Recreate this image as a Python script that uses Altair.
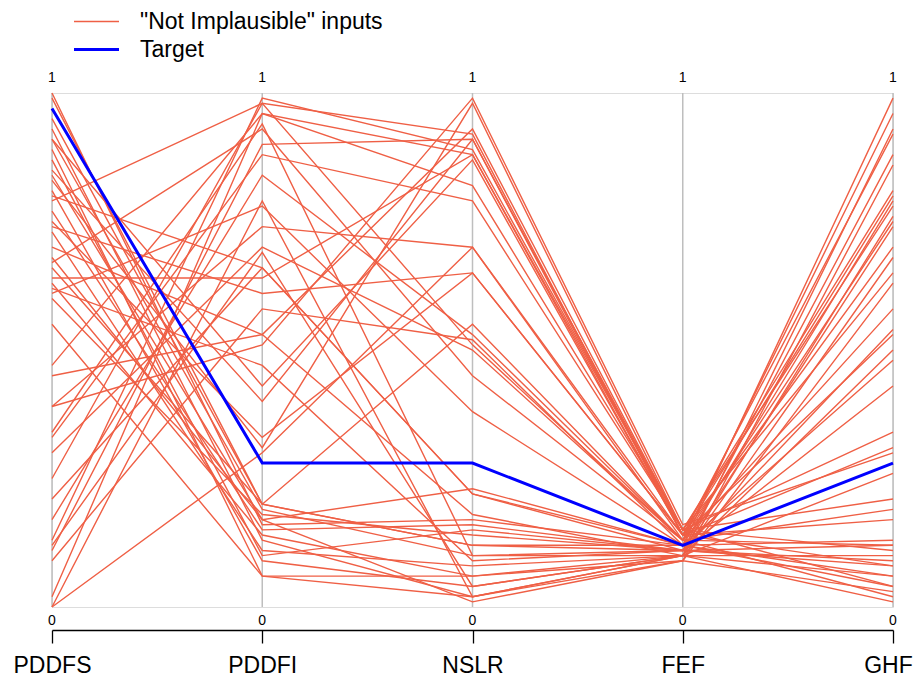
import altair as alt
import pandas as pd

variables = ["PDDFS", "PDDFI", "NSLR", "FEF", "GHF"]

pddfs = [1.00, 0.95, 0.93, 0.91, 0.91, 0.89, 0.85, 0.84, 0.83, 0.81, 0.79, 0.77, 0.74, 0.73, 0.70,
         0.68, 0.67, 0.66, 0.64, 0.63, 0.61, 0.60, 0.47, 0.39, 0.39, 0.34, 0.33, 0.30, 0.25, 0.21,
         0.17, 0.13, 0.12, 0.11, 0.09, 0.02, 0.00, 0.00, 0.55, 0.87, 0.75, 0.62, 0.45, 0.99, 0.80]
pddfi = [0.16, 0.20, 0.13, 0.43, 0.19, 0.06, 0.40, 0.17, 0.31, 0.09, 0.98, 0.15, 0.61, 0.11, 0.53,
         0.17, 0.93, 0.20, 0.64, 0.14, 0.78, 0.18, 0.96, 0.74, 0.51, 0.94, 0.88, 0.70, 0.98, 0.66,
         0.84, 0.99, 0.69, 0.90, 0.58, 0.96, 0.79, 0.30, 0.06, 0.10, 0.33, 0.47, 0.53, 0.20, 0.66]
nslr = [0.17, 0.55, 0.02, 0.87, 0.10, 0.06, 0.91, 0.23, 0.98, 0.04, 0.51, 0.16, 0.65, 0.08, 0.93,
        0.01, 0.45, 0.12, 0.88, 0.06, 0.38, 0.14, 0.82, 0.70, 0.99, 0.10, 0.79, 0.50, 0.92, 0.22,
        0.53, 0.89, 0.04, 0.91, 0.52, 0.88, 0.02, 0.70, 0.02, 0.15, 0.65, 0.09, 0.18, 0.12, 0.22]
fef = [0.12, 0.13, 0.10, 0.14, 0.11, 0.09, 0.15, 0.12, 0.15, 0.10, 0.13, 0.11, 0.14, 0.10, 0.15,
       0.09, 0.13, 0.11, 0.14, 0.10, 0.12, 0.11, 0.15, 0.14, 0.16, 0.10, 0.15, 0.13, 0.14, 0.12,
       0.13, 0.15, 0.10, 0.14, 0.12, 0.15, 0.09, 0.13, 0.10, 0.11, 0.14, 0.11, 0.10, 0.12, 0.11]
ghf = [0.99, 0.96, 0.93, 0.92, 0.88, 0.86, 0.81, 0.79, 0.78, 0.76, 0.75, 0.74, 0.70, 0.68, 0.65,
       0.63, 0.58, 0.54, 0.53, 0.50, 0.48, 0.43, 0.34, 0.31, 0.30, 0.26, 0.21, 0.19, 0.17, 0.13,
       0.12, 0.11, 0.10, 0.08, 0.06, 0.04, 0.03, 0.02, 0.01, 0.09, 0.80, 0.12, 0.06, 0.04, 0.08]
target = [0.97, 0.28, 0.28, 0.12, 0.28]

RED = '"Not Implausible" inputs'
TGT = "Target"

cols = [pddfs, pddfi, nslr, fef, ghf]
rows = []
for i in range(len(pddfs)):
    for j, v in enumerate(variables):
        rows.append({"id": i, "var": v, "idx": j, "value": cols[j][i], "group": RED})
red_df = pd.DataFrame(rows)
tgt_df = pd.DataFrame({"id": [-1] * 5, "var": variables, "idx": list(range(5)),
                       "value": target, "group": [TGT] * 5})

axes_df = pd.DataFrame({"var": variables, "lo": [0] * 5, "hi": [1] * 5,
                        "lo_lab": ["0"] * 5, "hi_lab": ["1"] * 5})

xenc = alt.X("var:N", sort=variables, scale=alt.Scale(type="point", padding=0),
             axis=alt.Axis(title=None, orient="bottom", offset=23, grid=False,
                           domainColor="black", domainWidth=1.3, tickColor="black",
                           tickSize=13, tickWidth=1.3, labelFontSize=23,
                           labelOffset={"condition": {"test": "datum.value === 'GHF'", "value": -5},
                                        "value": 0},
                           labelPadding=22,
                           labelBaseline="middle", labelColor="black", labelAngle=0))
yscale = alt.Scale(domain=[0, 1], nice=False, zero=False)


def make_legend():
    return alt.Legend(orient="none", legendX=33, legendY=-83, title=None,
                      symbolType="M-2.25,0H2.25", symbolSize=400, labelFontSize=23,
                      labelOffset=32, rowPadding=4, padding=0, labelColor="black",
                      labelLimit=0)


color = alt.Color("group:N", scale=alt.Scale(domain=[RED, TGT], range=["#EF5F45", "#0000FF"]),
                  legend=make_legend())
sw = alt.StrokeWidth("group:N", scale=alt.Scale(domain=[RED, TGT], range=[1.4, 3]),
                     legend=make_legend())

rules = alt.Chart(axes_df).mark_rule(color="#BEBEBE", strokeWidth=1.5).encode(
    x=xenc, y=alt.Y("lo:Q", scale=yscale, axis=None), y2="hi:Q")

top_txt = alt.Chart(axes_df).mark_text(fontSize=14, dy=-15, baseline="middle", color="black").encode(
    x=xenc, y=alt.Y("hi:Q", scale=yscale, axis=None), text="hi_lab:N")
bot_txt = alt.Chart(axes_df).mark_text(fontSize=14, dy=14, baseline="middle", color="black").encode(
    x=xenc, y=alt.Y("lo:Q", scale=yscale, axis=None), text="lo_lab:N")

red_lines = alt.Chart(red_df).mark_line().encode(
    x=xenc, y=alt.Y("value:Q", scale=yscale, axis=None), detail="id:N",
    order="idx:Q", color=color, strokeWidth=sw)
tgt_line = alt.Chart(tgt_df).mark_line().encode(
    x=xenc, y=alt.Y("value:Q", scale=yscale, axis=None), detail="id:N",
    order="idx:Q", color=color, strokeWidth=sw)

chart = alt.layer(rules, red_lines, tgt_line, top_txt, bot_txt).properties(
    width=841, height=514,
    autosize=alt.AutoSizeParams(type="none"),
    padding={"left": 44, "top": 85, "right": 21, "bottom": 69},
).configure_view(stroke=None).configure(font="Liberation Sans")

chart.save("out.html", embed_options={"renderer": "svg", "actions": False})
